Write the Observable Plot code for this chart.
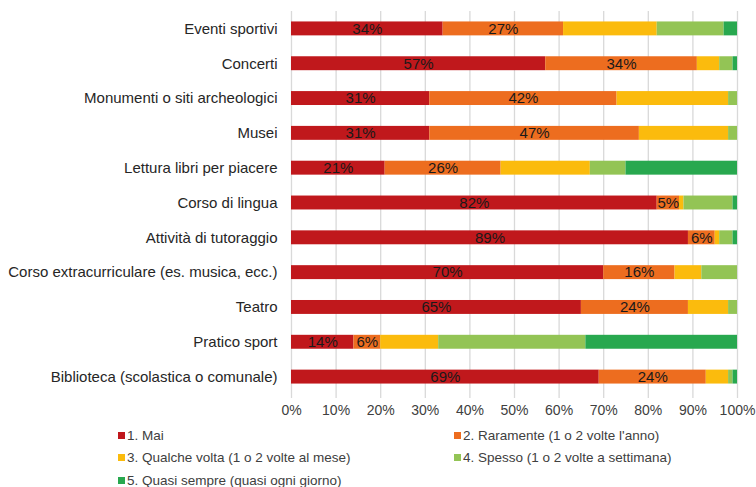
<!DOCTYPE html>
<html>
<head>
<meta charset="utf-8">
<script src="https://cdn.jsdelivr.net/npm/d3@7"></script>
<script src="https://cdn.jsdelivr.net/npm/@observablehq/plot@0.6"></script>
<style>
  body { margin: 0; background: #fff; font-family: "Liberation Sans", Arial, sans-serif; }
  #legend { position: relative; width: 756px; height: 67px; font-size: 13.5px; color: #404040; }
  .item { position: absolute; display: flex; align-items: center; height: 22px; white-space: nowrap; }
  .sw { width: 7px; height: 7px; margin-right: 2px; }
</style>
</head>
<body>
<div id="chart"></div>
<div id="legend"></div>
<script>
const categories = [
  "Eventi sportivi",
  "Concerti",
  "Monumenti o siti archeologici",
  "Musei",
  "Lettura libri per piacere",
  "Corso di lingua",
  "Attività di tutoraggio",
  "Corso extracurriculare (es. musica, ecc.)",
  "Teatro",
  "Pratico sport",
  "Biblioteca (scolastica o comunale)"
];
const series = [
  "1. Mai",
  "2. Raramente (1 o 2 volte l'anno)",
  "3. Qualche volta (1 o 2 volte al mese)",
  "4. Spesso (1 o 2 volte a settimana)",
  "5. Quasi sempre (quasi ogni giorno)"
];
const mai       = [34, 57, 31, 31, 21, 82, 89, 70, 65, 14, 69];
const raramente = [27, 34, 42, 47, 26,  5,  6, 16, 24,  6, 24];
const qualche   = [21,  5, 25, 20, 20,  1,  1,  6,  9, 13,  5];
const spesso    = [15,  3,  2,  2,  8, 11,  3,  8,  2, 33,  1];
const quasi     = [ 3,  1,  0,  0, 25,  1,  1,  0,  0, 34,  1];
const labelledSeries = [series[0], series[1]];
const colors = ["#c0181c", "#ed6d1f", "#fbbb0d", "#93c455", "#28a84f"];
const xTicks = [0, 10, 20, 30, 40, 50, 60, 70, 80, 90, 100];

const seriesValues = [mai, raramente, qualche, spesso, quasi];
const rows = [];
categories.forEach((cat, i) => {
  let acc = 0;
  seriesValues.forEach((vals, s) => {
    const v = vals[i];
    rows.push({cat, series: series[s], value: v, x1: acc, x2: acc + v});
    acc += v;
  });
});
const labelRows = rows.filter(d => labelledSeries.includes(d.series) && d.value > 0);

const chart = Plot.plot({
  width: 756,
  height: 420,
  marginTop: 11,
  marginBottom: 26,
  marginLeft: 291,
  marginRight: 19,
  style: {fontFamily: "'Liberation Sans', Arial, sans-serif", background: "#fff"},
  x: {domain: [0, 100], ticks: xTicks},
  y: {domain: categories, paddingInner: 0.6, paddingOuter: 0.3, round: false},
  color: {domain: series, range: colors},
  marks: [
    Plot.gridX(xTicks, {stroke: "#d9d9d9", strokeOpacity: 1, strokeWidth: 1.3}),
    Plot.barX(rows, {y: "cat", x1: "x1", x2: "x2", fill: "series"}),
    Plot.text(labelRows, {
      y: "cat", x: d => (d.x1 + d.x2) / 2, text: d => d.value + "%",
      fill: "#1a1a1a", fontSize: 15
    }),
    Plot.axisX({ticks: xTicks, tickFormat: d => d + "%", tickSize: 4, stroke: "#d9d9d9", strokeWidth: 1.3, tickPadding: 7, fontSize: 14, color: "#404040", label: null}),
    Plot.axisY({tickSize: 0, tickPadding: 14, fontSize: 15, color: "#262626", label: null})
  ]
});
document.getElementById("chart").appendChild(chart);

const legend = document.getElementById("legend");
const positions = [[118, 4], [454, 4], [118, 26.5], [454, 26.5], [118, 49]];
series.forEach((s, i) => {
  const item = document.createElement("div");
  item.className = "item";
  item.style.left = positions[i][0] + "px";
  item.style.top = positions[i][1] + "px";
  const sw = document.createElement("span");
  sw.className = "sw";
  sw.style.background = colors[i];
  const t = document.createElement("span");
  t.textContent = s;
  item.appendChild(sw);
  item.appendChild(t);
  legend.appendChild(item);
});
</script>
</body>
</html>
